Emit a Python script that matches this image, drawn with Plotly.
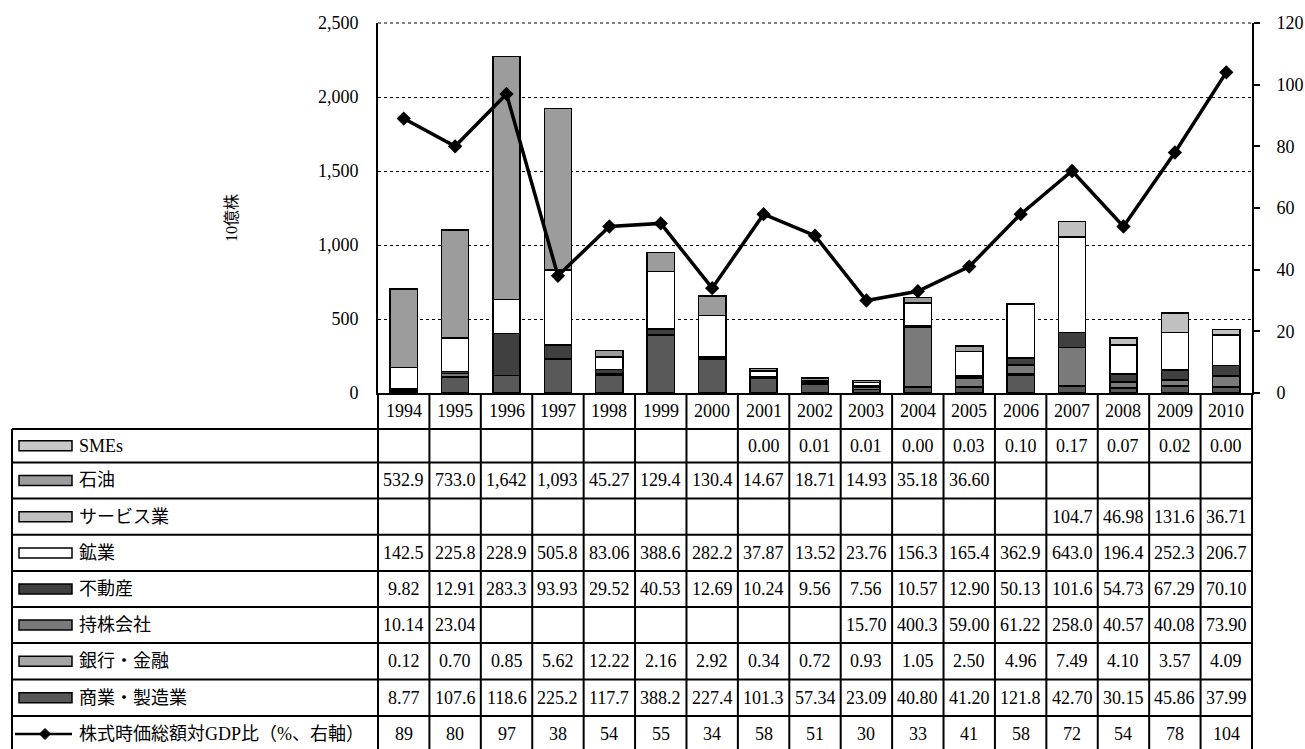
import plotly.graph_objects as go

years = [str(y) for y in range(1994, 2011)]

smes = [None, None, None, None, None, None, None, 0.00, 0.01, 0.01, 0.00, 0.03, 0.10, 0.17, 0.07, 0.02, 0.00]
oil = [532.9, 733.0, 1642, 1093, 45.27, 129.4, 130.4, 14.67, 18.71, 14.93, 35.18, 36.60, None, None, None, None, None]
services = [None] * 13 + [104.7, 46.98, 131.6, 36.71]
mining = [142.5, 225.8, 228.9, 505.8, 83.06, 388.6, 282.2, 37.87, 13.52, 23.76, 156.3, 165.4, 362.9, 643.0, 196.4, 252.3, 206.7]
real_estate = [9.82, 12.91, 283.3, 93.93, 29.52, 40.53, 12.69, 10.24, 9.56, 7.56, 10.57, 12.90, 50.13, 101.6, 54.73, 67.29, 70.10]
holding = [10.14, 23.04, None, None, None, None, None, None, None, 15.70, 400.3, 59.00, 61.22, 258.0, 40.57, 40.08, 73.90]
banking = [0.12, 0.70, 0.85, 5.62, 12.22, 2.16, 2.92, 0.34, 0.72, 0.93, 1.05, 2.50, 4.96, 7.49, 4.10, 3.57, 4.09]
commerce = [8.77, 107.6, 118.6, 225.2, 117.7, 388.2, 227.4, 101.3, 57.34, 23.09, 40.80, 41.20, 121.8, 42.70, 30.15, 45.86, 37.99]
mcap_gdp = [89, 80, 97, 38, 54, 55, 34, 58, 51, 30, 33, 41, 58, 72, 54, 78, 104]

names = {
    "smes": "SMEs", "oil": "石油", "services": "サービス業", "mining": "鉱業",
    "real_estate": "不動産", "holding": "持株会社", "banking": "銀行・金融",
    "commerce": "商業・製造業", "line": "株式時価総額対GDP比（%、右軸）",
}
colors = {
    "smes": "#c8c8c8", "oil": "#9c9c9c", "services": "#c0c0c0", "mining": "#ffffff",
    "real_estate": "#404040", "holding": "#7a7a7a", "banking": "#a6a6a6", "commerce": "#595959",
}
series = {
    "smes": smes, "oil": oil, "services": services, "mining": mining,
    "real_estate": real_estate, "holding": holding, "banking": banking, "commerce": commerce,
}
stack_order = ["commerce", "banking", "holding", "real_estate", "mining", "services", "oil", "smes"]
table_order = ["smes", "oil", "services", "mining", "real_estate", "holding", "banking", "commerce"]

FONT = "Liberation Serif, 'Noto Sans CJK JP', serif"

# pixel geometry helpers
L, R, T, B = 378, 1252, 23, 393
W, H = 1305, 749


def xp(px):
    return (px - L) / (R - L)


def yp(py):
    return (B - py) / (B - T)


def fmt(v):
    if v is None:
        return ""
    if v >= 1000:
        return f"{v:,.0f}"
    if v >= 100:
        return f"{v:.1f}"
    return f"{v:.2f}"


fig = go.Figure()
for key in stack_order:
    fig.add_trace(go.Bar(
        x=years, y=series[key], name=names[key], width=0.53,
        marker=dict(color=colors[key], line=dict(color="black", width=1.5)),
        showlegend=False,
    ))
fig.add_trace(go.Scatter(
    x=years, y=mcap_gdp, yaxis="y2", mode="lines+markers", name=names["line"],
    line=dict(color="black", width=3.5),
    marker=dict(symbol="diamond", size=11, color="black"),
    showlegend=False,
))

n = len(years)


def col_center(i):
    return (i + 0.5) / n


shapes = []
annotations = []
line_w = 2
# dotted top border of plot area
shapes.append(dict(type="line", xref="paper", yref="paper", x0=0, x1=1, y0=1, y1=1,
                   line=dict(color="#555555", width=1.5, dash="dot")))
# row borders
borders = [429, 462.5, 498.5, 534.8, 571, 607, 643, 679.5, 716, 752]
for by in borders:
    shapes.append(dict(type="line", xref="paper", yref="paper", x0=xp(12), x1=xp(R),
                       y0=yp(by), y1=yp(by), line=dict(color="black", width=line_w)))
# vertical borders
shapes.append(dict(type="line", xref="paper", yref="paper", x0=xp(12), x1=xp(12),
                   y0=yp(429), y1=yp(752), line=dict(color="black", width=line_w)))
for k in range(n + 1):
    shapes.append(dict(type="line", xref="paper", yref="paper", x0=k / n, x1=k / n,
                       y0=yp(B), y1=yp(752), line=dict(color="black", width=line_w)))

rows = table_order + ["line"]
for i, key in enumerate(rows):
    top, bot = borders[i], borders[i + 1]
    cy = (top + bot) / 2
    annotations.append(dict(xref="paper", yref="paper", x=xp(77), y=yp(cy), text=names[key],
                            showarrow=False, xanchor="left", yanchor="middle",
                            font=dict(family=FONT, size=18, color="black")))
    if key == "line":
        shapes.append(dict(type="line", xref="paper", yref="paper", x0=xp(15), x1=xp(72),
                           y0=yp(cy), y1=yp(cy), line=dict(color="black", width=2.5)))
        cx, d = 45, 5.5
        path = (f"M {xp(cx - d)} {yp(cy)} L {xp(cx)} {yp(cy - d)} "
                f"L {xp(cx + d)} {yp(cy)} L {xp(cx)} {yp(cy + d)} Z")
        shapes.append(dict(type="path", xref="paper", yref="paper", path=path,
                           fillcolor="black", line=dict(color="black", width=1)))
        vals = [str(v) for v in mcap_gdp]
    else:
        shapes.append(dict(type="rect", xref="paper", yref="paper", x0=xp(19), x1=xp(72),
                           y0=yp(cy + 5), y1=yp(cy - 5), fillcolor=colors[key],
                           line=dict(color="black", width=1.5)))
        vals = [fmt(v) for v in series[key]]
    for j, txt in enumerate(vals):
        if txt:
            annotations.append(dict(xref="paper", yref="paper", x=col_center(j), y=yp(cy),
                                    text=txt, showarrow=False, xanchor="center",
                                    yanchor="middle",
                                    font=dict(family=FONT, size=18, color="black")))

# year labels (category values) placed in the header row
for j, yr in enumerate(years):
    annotations.append(dict(xref="paper", yref="paper", x=col_center(j), y=yp(411), text=yr,
                            showarrow=False, xanchor="center", yanchor="middle",
                            font=dict(family=FONT, size=18, color="black")))

# y-axis title
annotations.append(dict(xref="paper", yref="paper", x=xp(232), y=yp(218), text="10億株",
                        textangle=-90, showarrow=False, xanchor="center", yanchor="middle",
                        font=dict(family=FONT, size=16, color="black")))

fig.update_layout(
    width=W, height=H,
    margin=dict(l=L, r=W - R, t=T, b=H - B, pad=0, autoexpand=False),
    paper_bgcolor="white", plot_bgcolor="white",
    barmode="stack", showlegend=False,
    font=dict(family=FONT, size=18, color="black"),
    xaxis=dict(type="category", categoryorder="array", categoryarray=years,
               showticklabels=False, ticks="", showline=True, linecolor="black", linewidth=2,
               showgrid=False, zeroline=False, range=[-0.5, n - 0.5], automargin=False),
    yaxis=dict(range=[0, 2500], tickvals=[0, 500, 1000, 1500, 2000, 2500], tickformat=",",
               showgrid=True, gridcolor="black", griddash="dot", gridwidth=1.2,
               showline=True, linecolor="black", linewidth=2, zeroline=False,
               ticks="", ticklabelstandoff=14, tickfont=dict(family=FONT, size=18),
               automargin=False),
    yaxis2=dict(range=[0, 120], tickvals=[0, 20, 40, 60, 80, 100, 120], overlaying="y",
                side="right", showgrid=False, zeroline=False, showline=True,
                linecolor="black", linewidth=2, ticks="outside", ticklen=6,
                tickcolor="black", tickwidth=1.5, ticklabelstandoff=13,
                tickfont=dict(family=FONT, size=18), automargin=False),
    shapes=shapes, annotations=annotations,
)

fig.write_html("out.html")
